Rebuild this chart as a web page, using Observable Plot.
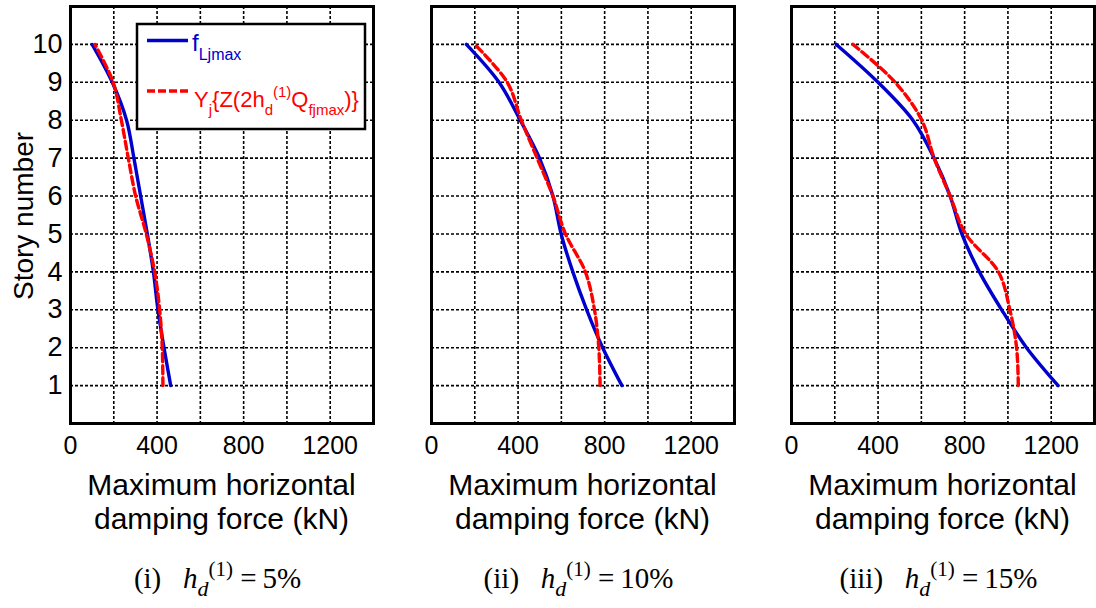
<!DOCTYPE html>
<html>
<head>
<meta charset="utf-8">
<script src="https://cdn.jsdelivr.net/npm/d3@7"></script>
<script src="https://cdn.jsdelivr.net/npm/@observablehq/plot@0.6"></script>
<style>
  html, body { margin: 0; padding: 0; background: #fff; overflow: hidden; }
  #fig { position: relative; width: 1096px; height: 608px; font-family: "Liberation Sans", Arial, sans-serif; color: #000; }
  .panel { position: absolute; top: 0; }
  .xtitle { position: absolute; text-align: center; font-size: 30px; line-height: 34px; white-space: nowrap; transform: translateX(-50%); }
  .ytitle { position: absolute; font-size: 28px; white-space: nowrap; transform: translate(-50%, -50%) rotate(-90deg); }
  .cap { position: absolute; font-family: "Liberation Serif", "Times New Roman", serif; font-size: 29px; line-height: 30px; white-space: nowrap; transform: translateX(-50%); }
  .cap .sub { position: relative; top: 8px; font-size: 22px; }
  .cap .sup { position: relative; top: -12px; font-size: 21px; }
</style>
</head>
<body>
<div id="fig"></div>
<script>
// Story levels and axis ticks
const stories = [1, 2, 3, 4, 5, 6, 7, 8, 9, 10];
const xTicks = [0, 400, 800, 1200];
const xGrid = [200, 400, 600, 800, 1000, 1200];
const panelLabels = ["(i)", "(ii)", "(iii)"];
const dampingRatios = ["5%", "10%", "15%"];

// Maximum horizontal damping force (kN) per story, stories 1..10
const fLjmax5  = [463, 432, 404, 383, 355, 324, 293, 259, 193, 100];
const yzq5     = [427, 424, 412, 389, 350, 301, 267, 235, 197, 113];
const fLjmax10 = [880, 791, 717, 653, 599, 561, 499, 410, 312, 161];
const yzq10    = [779, 773, 753, 711, 619, 561, 488, 415, 350, 200];
const fLjmax15 = [1232, 1086, 971, 868, 787, 733, 659, 561, 400, 207];
const yzq15    = [1048, 1040, 1009, 956, 805, 733, 659, 602, 479, 284];

const blueSeries = [fLjmax5, fLjmax10, fLjmax15];
const redSeries = [yzq5, yzq10, yzq15];

const BLUE = "#0000cd";
const RED = "#ff0000";

const rows = (arr) => stories.map((s, i) => ({story: s, force: arr[i]}));

const fig = document.getElementById("fig");

// Panel layout: svg left offset, left margin, right margin
const layout = [
  {left: 0,   ml: 70, mr: 10},
  {left: 400, ml: 31, mr: 10},
  {left: 760, ml: 31, mr: 3}
];
const frameW = 303;
const H = 470, MT = 6, MB = 47;

layout.forEach((L, k) => {
  const showY = k === 0;
  const marks = [
    Plot.gridX(xGrid, {stroke: "black", strokeOpacity: 1, strokeWidth: 1.6, strokeDasharray: "3,2"}),
    Plot.gridY(stories, {stroke: "black", strokeOpacity: 1, strokeWidth: 1.6, strokeDasharray: "3,2"}),
    Plot.line(rows(blueSeries[k]), {x: "force", y: "story", stroke: BLUE, strokeWidth: 3.4, curve: "catmull-rom"}),
    Plot.line(rows(redSeries[k]), {x: "force", y: "story", stroke: RED, strokeWidth: 3.4, strokeDasharray: "8,4", curve: "catmull-rom"}),
    Plot.frame({stroke: "black", strokeWidth: 3}),
    Plot.axisX(xTicks, {tickSize: 0, tickPadding: 13, fontSize: 25, label: null, tickFormat: (d) => String(d)})
  ];
  if (showY) marks.push(Plot.axisY(stories, {tickSize: 0, tickPadding: 8, fontSize: 27, label: null, tickFormat: (d) => String(d)}));
  const chart = Plot.plot({
    width: L.ml + frameW + L.mr,
    height: H,
    marginLeft: L.ml,
    marginRight: L.mr,
    marginTop: MT,
    marginBottom: MB,
    style: {fontFamily: '"Liberation Sans", Arial, sans-serif', fontSize: "25px", color: "black", background: "white", overflow: "visible"},
    x: {domain: [0, 1400]},
    y: {domain: [0, 11], axis: showY ? undefined : null},
    marks
  });
  chart.classList.add("panel");
  chart.style.left = L.left + "px";
  fig.appendChild(chart);

  const cx = L.left + L.ml + frameW / 2;

  const xt = document.createElement("div");
  xt.className = "xtitle";
  xt.style.left = cx + "px";
  xt.style.top = "468px";
  xt.innerHTML = "Maximum horizontal<br>damping force (kN)";
  fig.appendChild(xt);

  const cap = document.createElement("div");
  cap.className = "cap";
  cap.style.left = (cx - 4) + "px";
  cap.style.top = "563px";
  cap.innerHTML = panelLabels[k] + "&nbsp;&nbsp;&nbsp;<i>h</i><span class='sub'><i>d</i></span><span class='sup'>(1)</span>&nbsp;=&thinsp;" + dampingRatios[k];
  fig.appendChild(cap);

  if (showY) {
    // Legend box inside the first panel
    const svg = d3.select(chart);
    const g = svg.append("g")
      .attr("font-family", '"Liberation Sans", Arial, sans-serif')
      .attr("text-anchor", "start");
    g.append("rect").attr("x", 137).attr("y", 24).attr("width", 228).attr("height", 105)
      .attr("fill", "white").attr("stroke", "black").attr("stroke-width", 2.5);
    g.append("line").attr("x1", 147).attr("x2", 188).attr("y1", 40.5).attr("y2", 40.5)
      .attr("stroke", BLUE).attr("stroke-width", 3.4);
    const t1 = g.append("text").attr("x", 192).attr("y", 51).attr("fill", BLUE).attr("font-size", 24);
    t1.append("tspan").text("f");
    t1.append("tspan").attr("font-size", 16).attr("dy", 9).text("Ljmax");
    g.append("line").attr("x1", 147).attr("x2", 188).attr("y1", 91).attr("y2", 91)
      .attr("stroke", RED).attr("stroke-width", 3.4).attr("stroke-dasharray", "8,3");
    const t2 = g.append("text").attr("x", 194).attr("y", 107).attr("fill", RED).attr("font-size", 22);
    t2.append("tspan").text("Y");
    t2.append("tspan").attr("font-size", 15).attr("dy", 8).text("j");
    t2.append("tspan").attr("dy", -8).text("{Z(2h");
    t2.append("tspan").attr("font-size", 15).attr("dy", 8).text("d");
    t2.append("tspan").attr("font-size", 15).attr("dy", -18).text("(1)");
    t2.append("tspan").attr("dy", 10).text("Q");
    t2.append("tspan").attr("font-size", 15).attr("dy", 8).text("fjmax");
    t2.append("tspan").attr("dy", -8).text(")}");

    const yt = document.createElement("div");
    yt.className = "ytitle";
    yt.style.left = "24px";
    yt.style.top = "216px";
    yt.textContent = "Story number";
    fig.appendChild(yt);
  }
});
</script>
</body>
</html>
